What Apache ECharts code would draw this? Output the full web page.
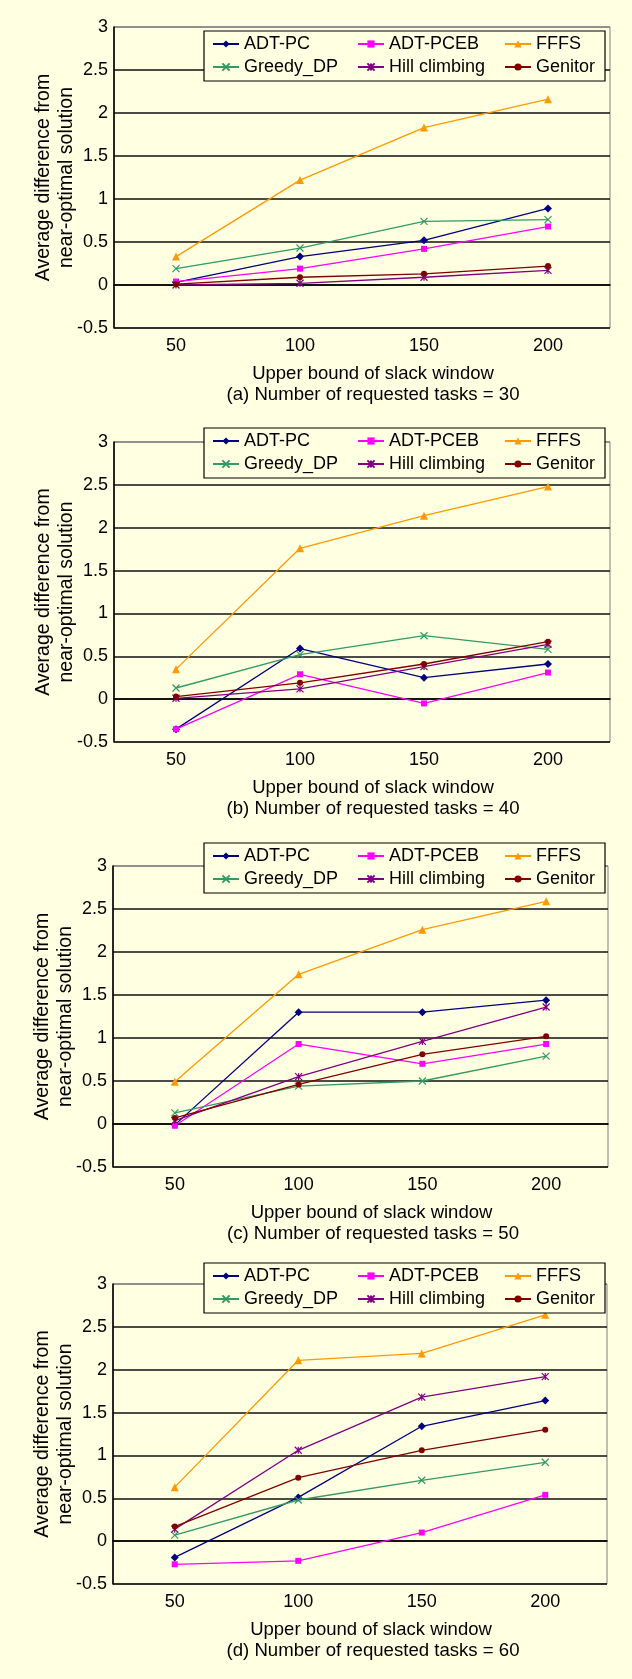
<!DOCTYPE html>
<html><head><meta charset="utf-8">
<script src="https://cdn.jsdelivr.net/npm/echarts@6/dist/echarts.min.js"></script>
<style>html,body{margin:0;padding:0;background:#FFFFE1}#c{width:632px;height:1679px}</style>
</head><body><div id="c"></div>
<script>
// ---- data ----
const categories = ['50', '100', '150', '200'];
const seriesNames = ['ADT-PC', 'ADT-PCEB', 'FFFS', 'Greedy_DP', 'Hill climbing', 'Genitor'];
const captions = [
  '(a) Number of requested tasks = 30',
  '(b) Number of requested tasks = 40',
  '(c) Number of requested tasks = 50',
  '(d) Number of requested tasks = 60'
];
// (a) tasks = 30
const a_adtpc   = [0.03, 0.33, 0.52, 0.89];
const a_adtpceb = [0.04, 0.19, 0.42, 0.68];
const a_fffs    = [0.33, 1.22, 1.83, 2.16];
const a_greedy  = [0.19, 0.43, 0.74, 0.76];
const a_hill    = [0.00, 0.02, 0.09, 0.17];
const a_genitor = [0.01, 0.09, 0.13, 0.22];
// (b) tasks = 40
const b_adtpc   = [-0.35, 0.59, 0.25, 0.41];
const b_adtpceb = [-0.35, 0.29, -0.05, 0.31];
const b_fffs    = [0.35, 1.76, 2.14, 2.48];
const b_greedy  = [0.13, 0.52, 0.74, 0.58];
const b_hill    = [0.01, 0.12, 0.38, 0.64];
const b_genitor = [0.03, 0.19, 0.41, 0.67];
// (c) tasks = 50
const c_adtpc   = [-0.01, 1.30, 1.30, 1.44];
const c_adtpceb = [-0.02, 0.93, 0.70, 0.93];
const c_fffs    = [0.49, 1.74, 2.26, 2.59];
const c_greedy  = [0.13, 0.44, 0.50, 0.79];
const c_hill    = [0.04, 0.55, 0.96, 1.36];
const c_genitor = [0.07, 0.46, 0.81, 1.02];
// (d) tasks = 60
const d_adtpc   = [-0.19, 0.51, 1.34, 1.64];
const d_adtpceb = [-0.27, -0.23, 0.10, 0.54];
const d_fffs    = [0.63, 2.11, 2.19, 2.64];
const d_greedy  = [0.07, 0.48, 0.71, 0.92];
const d_hill    = [0.14, 1.06, 1.68, 1.92];
const d_genitor = [0.17, 0.74, 1.06, 1.30];

const panelData = [
  [a_adtpc, a_adtpceb, a_fffs, a_greedy, a_hill, a_genitor],
  [b_adtpc, b_adtpceb, b_fffs, b_greedy, b_hill, b_genitor],
  [c_adtpc, c_adtpceb, c_fffs, c_greedy, c_hill, c_genitor],
  [d_adtpc, d_adtpceb, d_fffs, d_greedy, d_hill, d_genitor]
];
const xTitle = 'Upper bound of slack window';
const yTitle = 'Average difference from\nnear-optimal solution';

// ---- layout & style ----
const BG = '#FFFFE1';
const FONT = '"Liberation Sans", Arial, sans-serif';
const gridTops = [27, 442, 866, 1284];
const gridHeights = [301, 300, 301, 300];
const gridLefts = [114, 114, 113, 113];
const gridWidths = [496, 496, 495, 494];
const legendTops = [31, 428, 843, 1263];
const legendCols = [212, 357, 504];
const legendRowCenters = [13, 36];
const colors = ['#000080', '#FF00FF', '#FF9900', '#339966', '#800080', '#800000'];
const symbols = ['diamond', 'rect', 'triangle',
  'path://M0,0L10,10M10,0L0,10',
  'path://M0,0L10,10M10,0L0,10M5,0L5,10',
  'circle'];
const symbolSizes = [8, 6, 8, 7, 7, 6];

const grids = [], xAxes = [], yAxes = [], series = [], legends = [], graphics = [];
panelData.forEach((pd, i) => {
  const top = gridTops[i], h = gridHeights[i], bottom = top + h;
  grids.push({left: gridLefts[i], top: top, width: gridWidths[i], height: h,
    show: true, borderColor: '#808080', borderWidth: 1, backgroundColor: BG});
  xAxes.push({type: 'category', gridIndex: i, data: categories, boundaryGap: true,
    axisLine: {lineStyle: {color: '#000', width: 1.6}},
    axisTick: {inside: true, length: 5, lineStyle: {color: '#000', width: 1.2}},
    axisLabel: {color: '#000', fontSize: 18, fontFamily: FONT, margin: 9},
    splitLine: {show: false},
    name: xTitle, nameLocation: 'middle', nameGap: 36, nameMoveOverlap: false,
    nameTextStyle: {color: '#000', fontSize: 18.5, fontFamily: FONT, padding: [0, 0, 0, 22]}});
  yAxes.push({type: 'value', gridIndex: i, min: -0.5, max: 3, interval: 0.5,
    axisLine: {show: true, lineStyle: {color: '#000', width: 1.6}},
    axisTick: {show: false},
    axisLabel: {color: '#000', fontSize: 18, fontFamily: FONT, margin: 6},
    splitLine: {show: true, lineStyle: {color: ['#000', '#111', '#111', '#111', '#111', '#111', '#111', '#808080'], width: 1.6}},
    name: yTitle, nameLocation: 'middle', nameRotate: 90, nameGap: 36, nameMoveOverlap: false,
    nameTextStyle: {color: '#000', fontSize: 19.5, fontFamily: FONT, lineHeight: 23}});
  pd.forEach((vals, j) => {
    const isPath = symbols[j].indexOf('path://') === 0;
    series.push({type: 'line', name: seriesNames[j], xAxisIndex: i, yAxisIndex: i,
      data: vals, symbol: symbols[j], symbolSize: symbolSizes[j],
      lineStyle: {color: colors[j], width: 1.3},
      itemStyle: {color: isPath ? 'none' : colors[j], borderColor: colors[j], borderWidth: isPath ? 1.2 : 0},
      z: 2});
    legends.push({data: [seriesNames[j]], left: legendCols[j % 3],
      top: legendTops[i] + legendRowCenters[Math.floor(j / 3)] - 9,
      orient: 'horizontal', padding: 0, itemWidth: 26, itemHeight: 9, itemGap: 0,
      selectedMode: false,
      textStyle: {fontSize: 18, fontFamily: FONT, color: '#000', lineHeight: 18}});
  });
  graphics.push({type: 'rect', z: 3, shape: {x: 204, y: legendTops[i], width: 401, height: 50},
    style: {fill: BG, stroke: '#000', lineWidth: 1.2}});
  graphics.push({type: 'text', z: 3, x: 373, y: bottom + 67,
    style: {text: captions[i], fill: '#000', fontSize: 18.6, fontFamily: FONT, align: 'center', verticalAlign: 'middle'}});
});

const chart = echarts.init(document.getElementById('c'));
chart.setOption({
  backgroundColor: BG,
  animation: false,
  grid: grids, xAxis: xAxes, yAxis: yAxes, series: series, legend: legends,
  graphic: graphics
});
</script></body></html>
